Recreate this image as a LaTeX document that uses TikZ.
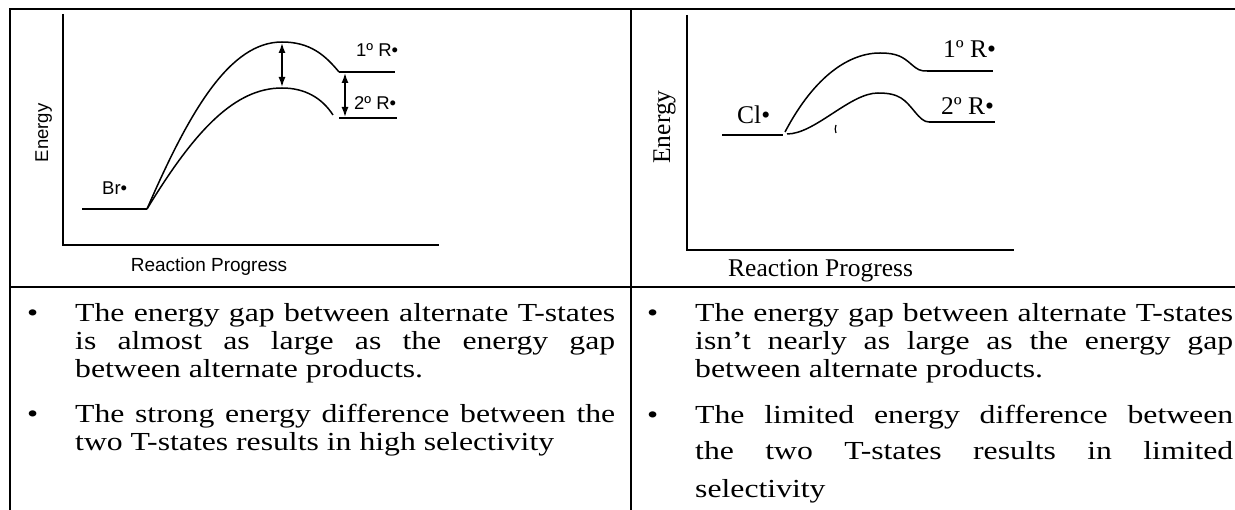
\documentclass[tikz,border=0pt]{standalone}
\usepackage{fontspec}
\setmainfont{Liberation Serif}
\newfontfamily\bodyfont[FakeStretch=1.22]{Liberation Serif}
\newfontfamily\plotsans{Liberation Sans}
\usetikzlibrary{arrows.meta}
\tikzset{
  tbl/.style={line width=2.4pt},
  ax/.style={line width=1.6pt},
  crv/.style={line width=1.5pt},
  lvl/.style={line width=1.8pt},
  sanslab/.style={inner sep=0pt, anchor=base west, font=\plotsans\fontsize{18.5}{20}\selectfont},
  serlab/.style={inner sep=0pt, anchor=base west, font=\fontsize{25.5}{27}\selectfont},
  txt/.style={inner sep=0pt, anchor=base west, font=\bodyfont\fontsize{26}{28}\selectfont},
  dbl/.style={line width=1.5pt, {Latex[length=10pt,width=7pt]}-{Latex[length=10pt,width=7pt]}}
}
\begin{document}
\begin{tikzpicture}[x=1pt,y=-1pt]
\useasboundingbox (0,0) rectangle (1235,510);
% table
\coordinate (tl) at (10,9);
\coordinate (tr) at (1235,9);
\coordinate (bl) at (10,510);
\coordinate (tm) at (631,9);
\coordinate (bm) at (631,510);
\coordinate (ml) at (10,287);
\coordinate (mr) at (1235,287);
\draw[tbl] (bl) -- (tl) -- (tr);
\draw[tbl] (tm) -- (bm);
\draw[tbl] (ml) -- (mr);

% ---------- left plot ----------
\coordinate (yaxL) at (63,14);
\coordinate (origL) at (63,245);
\coordinate (xaxL) at (439,245);
\draw[ax] (yaxL) -- (origL) -- (xaxL);
\node[rotate=90, anchor=base, inner sep=0pt, font=\plotsans\fontsize{18.5}{20}\selectfont] (enL) at (48,133) {Energy};
\node[anchor=base, inner sep=0pt, font=\plotsans\fontsize{19}{20}\selectfont] (rpL) at (209,272) {Reaction Progress};
\coordinate (brA) at (82,209);
\coordinate (brB) at (147,209);
\draw[lvl] (brA) -- (brB);
\node[sanslab] (brlab) at (102,195) {Br•};
\coordinate (ts1L) at (282,42);
\coordinate (p1L) at (339,72);
\coordinate (p1Le) at (395,72);
\coordinate (ts2L) at (282,88);
\coordinate (c2L) at (333,115);
\coordinate (p2L) at (339,118);
\coordinate (p2Le) at (397,118);
\draw[crv] (brB) .. controls (190,110) and (230,42) .. (ts1L) .. controls (310,42) and (325,55) .. (p1L);
\draw[crv] (brB) .. controls (195,130) and (235,88) .. (ts2L) .. controls (305,88) and (322,98) .. (c2L);
\draw[lvl] (p1L) -- (p1Le);
\draw[lvl] (p2L) -- (p2Le);
\node[sanslab] (r1L) at (356,57) {1º R•};
\node[sanslab] (r2L) at (354,110) {2º R•};
\coordinate (a1t) at (282,43);
\coordinate (a1b) at (282,87);
\coordinate (a2t) at (345,73);
\coordinate (a2b) at (345,117);
\draw[dbl] (a1t) -- (a1b);
\draw[dbl] (a2t) -- (a2b);

% ---------- right plot ----------
\coordinate (yaxR) at (687,15);
\coordinate (origR) at (687,250);
\coordinate (xaxR) at (1014,250);
\draw[ax] (yaxR) -- (origR) -- (xaxR);
\node[rotate=90, anchor=base, inner sep=0pt, font=\fontsize{25.5}{27}\selectfont] (enR) at (670,127) {Energy};
\node[serlab] (rpR) at (728,277) {Reaction Progress};
\coordinate (clA) at (722,135);
\coordinate (clB) at (783,135);
\draw[lvl] (clA) -- (clB);
\node[serlab] (cllab) at (737,124) {Cl•};
\coordinate (u0) at (785,132);
\coordinate (u1) at (880,53);
\coordinate (u2) at (911,64);
\coordinate (u3) at (927,71);
\coordinate (u4) at (993,71);
\draw[crv] (u0) .. controls (815,75) and (850,53) .. (u1) .. controls (897,53) and (903,57) .. (u2) .. controls (918,70) and (920,71) .. (u3);
\draw[lvl] (u3) -- (u4);
\coordinate (l0) at (787,134);
\coordinate (l1) at (878,93);
\coordinate (l2) at (915,112);
\coordinate (l3) at (929,122);
\coordinate (l4) at (995,122);
\draw[crv] (l0) .. controls (815,134) and (850,93) .. (l1) .. controls (900,93) and (905,100) .. (l2) .. controls (920,118) and (924,122) .. (l3);
\draw[lvl] (l3) -- (l4);
\coordinate (tk0) at (836,125);
\coordinate (tk1) at (836,133);
\draw[line width=1.2pt] (tk0) .. controls (835,129) .. (tk1);
\node[serlab] (r1R) at (943,58) {1º R•};
\node[serlab] (r2R) at (941,115) {2º R•};

% ---------- left text ----------
\node[txt] (b1L) at (27,322) {•};
\node[txt] (t1L) at (75,322) {\makebox[540pt][s]{The energy gap between alternate T-states}};
\node[txt] (t2L) at (75,350) {\makebox[540pt][s]{is almost as large as the energy gap}};
\node[txt] (t3L) at (75,378) {between alternate products.};
\node[txt] (b2L) at (27,423) {•};
\node[txt] (t4L) at (75,423) {\makebox[540pt][s]{The strong energy difference between the}};
\node[txt] (t5L) at (75,451) {two T-states results in high selectivity};

% ---------- right text ----------
\node[txt] (b1R) at (647,322) {•};
\node[txt] (t1R) at (695,322) {\makebox[538pt][s]{The energy gap between alternate T-states}};
\node[txt] (t2R) at (695,350) {\makebox[538pt][s]{isn’t nearly as large as the energy gap}};
\node[txt] (t3R) at (695,378) {between alternate products.};
\node[txt] (b2R) at (647,424) {•};
\node[txt] (t4R) at (695,424) {\makebox[538pt][s]{The limited energy difference between}};
\node[txt] (t5R) at (695,460) {\makebox[538pt][s]{the two T-states results in limited}};
\node[txt] (t6R) at (695,497) {selectivity};
\end{tikzpicture}
\end{document}
